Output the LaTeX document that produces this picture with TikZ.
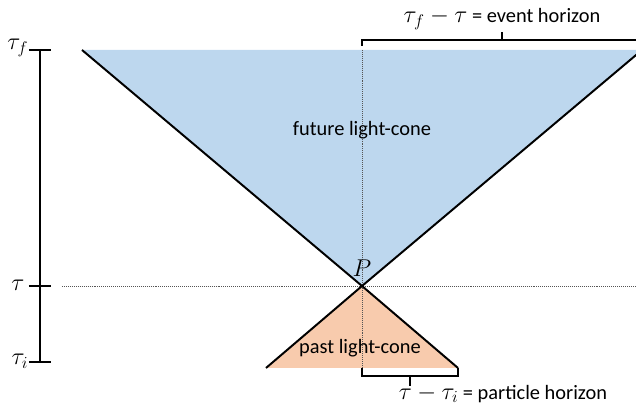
\documentclass[tikz,border=0pt]{standalone}
\usepackage{fontspec}
\setmainfont{Carlito}
\usepackage{tikz}
\definecolor{LCBlue}{HTML}{BDD7EE}
\definecolor{LCOrange}{HTML}{F8CBAD}
\definecolor{LCGrey}{HTML}{555555}
\newcommand{\bigmath}[1]{{\fontsize{16.5}{18}\selectfont$#1$}}
\begin{document}
\begin{tikzpicture}[x=0.025cm,y=0.025cm,
  edge/.style={black,line width=1.4pt},
  guide/.style={LCGrey,densely dotted,line width=0.4pt},
  brace/.style={black,line width=0.9pt},
  lbl/.style={font=\fontsize{14.5}{17}\selectfont,inner sep=1pt}]
\path[use as bounding box] (0,0) rectangle (636,406);
\clip (0,0) rectangle (636,406);
% cone points
\coordinate (P) at (362,120);
\coordinate (FL) at (82,356);
\coordinate (FR) at (642,356);
\coordinate (PL) at (266,38);
\coordinate (PR) at (458,38);
% fills
\fill[LCBlue] (FL) -- (P) -- (FR) -- cycle;
\fill[LCOrange] (PL) -- (P) -- (PR) -- cycle;
% guides
\coordinate (GT) at (362,356);
\coordinate (GB) at (362,30);
\coordinate (HL) at (62,120);
\coordinate (HR) at (636,120);
\draw[guide] (GT) -- (GB);
\draw[guide] (HL) -- (HR);
% cone edges
\draw[edge] (FL) -- (P) -- (FR);
\draw[edge] (PL) -- (P) -- (PR);
% time axis
\coordinate (Af) at (40,356);
\coordinate (At) at (40,120);
\coordinate (Ai) at (40,44);
\draw[edge] (Af) -- (Ai);
\foreach \t in {Af,At,Ai}
  \draw[edge] ([xshift=-8]\t) -- ([xshift=8]\t);
\node[lbl,anchor=east] (tf) at (30,358) {\bigmath{\tau_f}};
\node[lbl,anchor=east] (tn) at (26,121) {\bigmath{\tau}};
\node[lbl,anchor=east] (ti) at (30,45) {\bigmath{\tau_i}};
% labels
\node[lbl] (future) at (362,276) {future light-cone};
\node[lbl,anchor=south] (pname) at (362,128) {\bigmath{P}};
\node[lbl] (past) at (360,58) {past light-cone};
% event horizon bracket
\coordinate (EL) at (362,366);
\coordinate (ER) at (636,366);
\coordinate (EM) at (502,366);
\draw[brace] ([yshift=-4]EL) -- (EL) -- (ER);
\draw[brace] (EM) -- ([yshift=6]EM);
\node[lbl] (event) at (502,387) {\bigmath{\tau_f-\tau} = event horizon};
% particle horizon bracket
\coordinate (QL) at (362,30);
\coordinate (QR) at (458,30);
\coordinate (QM) at (410,30);
\draw[brace] ([yshift=6]QL) -- (QL) -- (QR) -- ([yshift=6]QR);
\draw[brace] (QM) -- ([yshift=-7]QM);
\node[lbl] (particle) at (503,12) {\bigmath{\tau-\tau_i} = particle horizon};
\end{tikzpicture}
\end{document}
